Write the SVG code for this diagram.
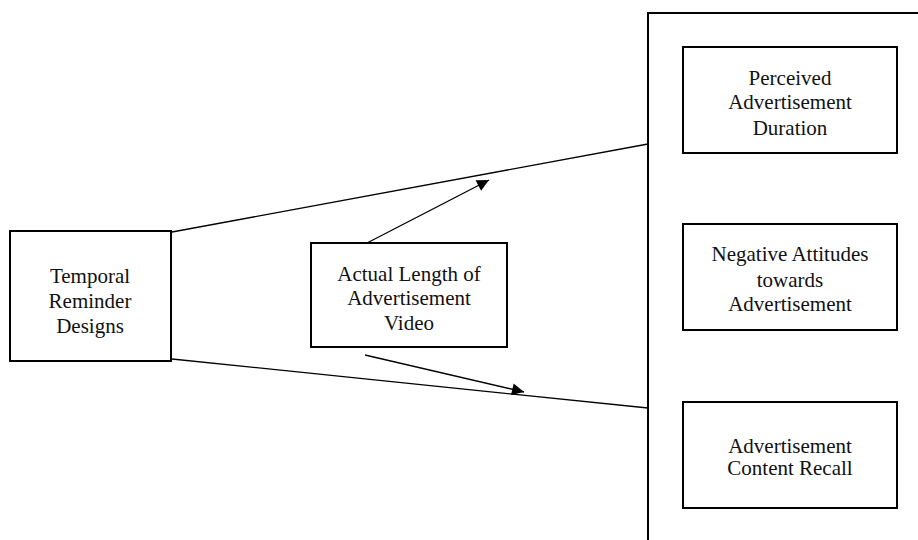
<svg xmlns="http://www.w3.org/2000/svg" width="918" height="540" viewBox="0 0 918 540">
<defs>
<style>
.box{fill:#fff;stroke:#000;stroke-width:2}
.t{font-family:"Liberation Serif","Times New Roman",serif;font-size:21px;text-anchor:middle;fill:#111}
.ln{stroke:#000;stroke-width:1.3;fill:none}
</style>
<marker id="ah" viewBox="0 0 10 10" refX="10" refY="5" markerWidth="13" markerHeight="12" markerUnits="userSpaceOnUse" orient="auto">
<path d="M0,0 L10,5 L0,10 z" fill="#000"/>
</marker>
</defs>
<rect width="918" height="540" fill="#fff"/>
<g id="outcomes-frame"><rect x="648" y="13" width="290" height="560" class="box"/></g>
<g id="connectors">
<line class="ln" x1="172" y1="232" x2="648" y2="144"/>
<line class="ln" x1="172" y1="359" x2="648" y2="408"/>
<line class="ln" x1="367" y1="243" x2="489" y2="180" marker-end="url(#ah)"/>
<line class="ln" x1="365" y1="355" x2="524" y2="392" marker-end="url(#ah)"/>
</g>
<g id="temporal">
<rect x="10" y="231" width="161" height="130" class="box"/>
<text class="t" x="90" y="283">Temporal</text>
<text class="t" x="90" y="308">Reminder</text>
<text class="t" x="90" y="333">Designs</text>
</g>
<g id="actual">
<rect x="311" y="243" width="196" height="104" class="box"/>
<text class="t" x="409" y="281">Actual Length of</text>
<text class="t" x="409" y="305">Advertisement</text>
<text class="t" x="409" y="330">Video</text>
</g>
<g id="perceived">
<rect x="683" y="47" width="214" height="106" class="box"/>
<text class="t" x="790" y="85">Perceived</text>
<text class="t" x="790" y="109">Advertisement</text>
<text class="t" x="790" y="135">Duration</text>
</g>
<g id="negative">
<rect x="683" y="224" width="214" height="106" class="box"/>
<text class="t" x="790" y="261">Negative Attitudes</text>
<text class="t" x="790" y="287">towards</text>
<text class="t" x="790" y="311">Advertisement</text>
</g>
<g id="recall">
<rect x="683" y="402" width="214" height="106" class="box"/>
<text class="t" x="790" y="453">Advertisement</text>
<text class="t" x="790" y="475">Content Recall</text>
</g>
</svg>
